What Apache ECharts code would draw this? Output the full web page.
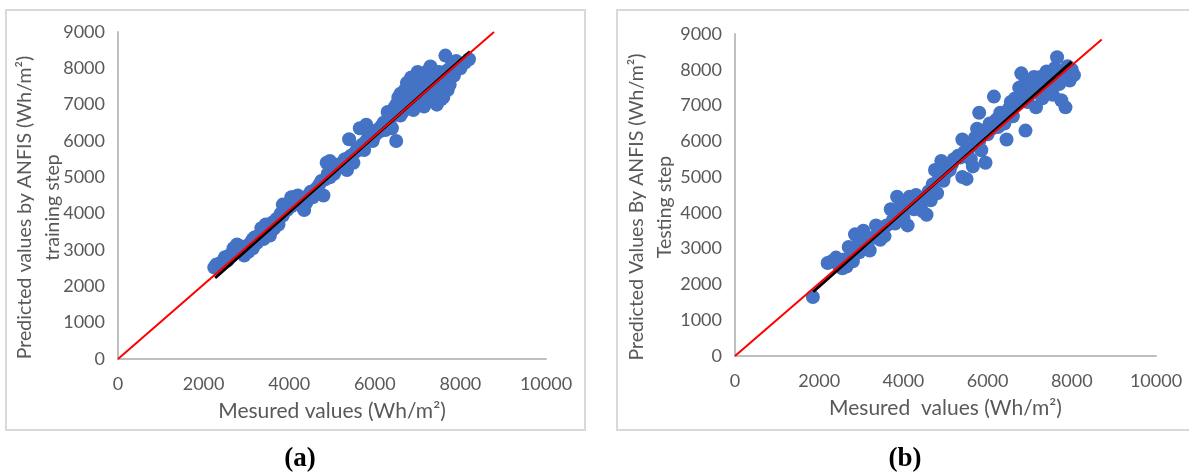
<!DOCTYPE html>
<html>
<head>
<meta charset="utf-8">
<script src="https://cdn.jsdelivr.net/npm/echarts@6/dist/echarts.min.js"></script>
<style>
html,body{margin:0;padding:0;background:#fff;}
#c{width:1189px;height:475px;}
</style>
</head>
<body>
<div id="c"></div>
<script>
// Axis ticks
const xTicks = [0, 2000, 4000, 6000, 8000, 10000];
const yTicks = [0, 1000, 2000, 3000, 4000, 5000, 6000, 7000, 8000, 9000];

// (a) training step: [measured, predicted]
const trainPoints = [
[2250,2520],[2300,2600],[2400,2650],[2500,2800],[2550,2700],[2650,2900],[2700,3050],[2780,3150],[2800,2950],[2900,3000],
[2950,2850],[3000,3100],[3050,2950],[3100,3200],[3150,3050],[3200,3350],[3250,3200],[3300,3400],[3400,3300],[3450,3700],
[3500,3500],[3550,3400],[3600,3750],[3650,3600],[3700,3850],[3750,3700],[3800,4000],[3850,4250],[3850,3950],[3900,4150],
[3950,4100],[4000,4300],[4050,4200],[4100,4450],[4150,4300],[4200,4500],[4250,4400],[4300,4200],[4350,4100],[4400,4300],
[4450,4500],[4500,4600],[4550,4450],[4600,4650],[4650,4700],[4700,4800],[4750,4900],[4800,4500],[4850,4950],[4875,5400],
[4900,5100],[4950,5450],[4950,5000],[5000,5200],[5050,5100],[5100,5250],[5200,5300],[5250,5350],[5300,5500],[5350,5200],
[5400,6050],[5400,5550],[5450,5600],[5500,5400],[5550,5700],[5600,5800],[5650,6350],[5700,5900],[5750,5750],[5800,6450],
[5800,6000],[5850,6100],[5900,6200],[5950,6000],[6000,6150],[6050,6300],[6100,6250],[6150,6400],[6200,6500],[6250,6300],
[6300,6800],[6350,6550],[6400,6700],[6450,6900],[6500,6000],[6500,7000],[6550,7200],[6600,6700],[6600,7300],[6650,7100],
[6700,7400],[6700,6900],[6750,7300],[6800,7600],[6800,7000],[6850,7200],[6900,7500],[6900,6850],[6950,7700],[7000,7300],
[7000,7900],[7050,7100],[7100,7600],[7100,7000],[7150,7800],[7200,7400],[7250,7150],[7300,8050],[7300,7600],[7350,7300],
[7400,7800],[7450,7000],[7500,7900],[7500,7450],[7550,7150],[7600,7700],[7650,8350],[7700,7950],[7700,7400],[7750,7550],
[7800,8100],[7850,7800],[7900,8200],[8000,8000],[8100,8150],[8200,8250],[7600,7200],[7150,6950],[6950,7050],
[2600,2850],[2850,3100],[3350,3600],[3150,3300],[3600,3550],[4050,4450],[4400,4450],[5150,5350],[6650,6800],[6750,7600],
[6850,7750],[7050,7700],[7200,7900],[7350,7950],[7450,7600],[6950,7350],[6550,6850],[6400,6350]
];
const trainTrend = [[2270,2230],[8224,8458]];
const trainIdeal = [[0,0],[8785,9000]];

// (b) testing step: [measured, predicted]
const testPoints = [
[1850,1650],[2200,2600],[2300,2650],[2400,2750],[2450,2550],[2550,2450],[2600,2700],[2650,2500],[2700,3050],[2750,2800],
[2800,2650],[2850,3400],[2900,3100],[2950,2900],[3050,3500],[3100,3250],[3150,3050],[3200,2950],[3250,3300],[3350,3650],
[3400,3450],[3450,3250],[3500,3550],[3550,3350],[3600,3650],[3700,4100],[3750,3800],[3800,3700],[3850,4450],[3900,4000],
[3950,4250],[4000,3850],[4050,4150],[4100,3650],[4150,4450],[4200,4300],[4250,4100],[4300,4500],[4400,4250],[4450,4050],
[4500,4400],[4550,3950],[4600,4600],[4650,4350],[4700,4800],[4750,5200],[4800,4550],[4850,5000],[4900,5450],[4950,4900],
[5000,5100],[5050,5300],[5100,5200],[5150,5350],[5200,5500],[5300,5600],[5350,5550],[5400,5000],[5400,6050],[5450,5700],
[5500,4950],[5550,5800],[5600,5500],[5650,5300],[5700,6100],[5750,6350],[5800,6800],[5800,6000],[5850,5750],[5900,6300],
[5950,5400],[6000,6200],[6050,6500],[6100,6350],[6150,7250],[6200,6600],[6250,6400],[6300,6800],[6350,6700],[6400,6500],
[6450,6050],[6500,6900],[6550,7100],[6600,6700],[6650,7200],[6700,7050],[6750,7500],[6800,7900],[6850,7300],[6900,6300],
[6900,7700],[6950,7100],[7000,7600],[7050,7350],[7100,7800],[7150,6950],[7200,7500],[7250,7800],[7300,7200],[7350,7650],
[7400,7950],[7450,7400],[7500,7700],[7550,7300],[7600,8050],[7650,8350],[7700,7600],[7750,7150],[7800,7900],[7850,6950],
[7900,8100],[7950,7700],[8000,8000],[8050,7850]
];
const testTrend = [[1860,1796],[7997,8220]];
const testIdeal = [[0,0],[8710,8845]];

const xNames = ['Mesured values (Wh/m\u00B2)', 'Mesured  values (Wh/m\u00B2)'];
const yNames = ['Predicted values by ANFIS (Wh/m\u00B2)\ntraining step', 'Predicted Values By ANFIS (Wh/m\u00B2)\nTesting step'];
const panelLabels = ['(a)', '(b)'];

const txt = '#595959';
const fontFam = 'Lato, "Open Sans", sans-serif';
const axisLineColor = '#BFBFBF';

function xAxisCfg(i){
  return {
    type:'value', gridIndex:i, min:xTicks[0], max:xTicks[xTicks.length-1], interval:2000,
    name:xNames[i], nameLocation:'middle', nameGap:42, nameMoveOverlap:false,
    nameTextStyle:{color:txt, fontSize:21, fontFamily:fontFam},
    axisLine:{show:true, lineStyle:{color:axisLineColor, width:2}},
    axisTick:{show:false}, splitLine:{show:false},
    axisLabel:{color:txt, fontSize:18, fontFamily:fontFam, margin:16, formatter:v => String(v)}
  };
}
function yAxisCfg(i){
  return {
    type:'value', gridIndex:i, min:yTicks[0], max:yTicks[yTicks.length-1], interval:1000,
    name:yNames[i], nameLocation:'middle', nameGap: i===0 ? 51 : 56, nameRotate:90, nameMoveOverlap:false,
    nameTextStyle:{color:txt, fontSize:19.5, fontFamily:fontFam, lineHeight:28, padding:[0,24,0,0]},
    axisLine:{show:true, lineStyle:{color:axisLineColor, width:2}},
    axisTick:{show:false}, splitLine:{show:false},
    axisLabel:{color:txt, fontSize:18, fontFamily:fontFam, margin:13, formatter:v => String(v)}
  };
}
function seriesFor(i, pts, trend, ideal){
  return [
    {type:'scatter', xAxisIndex:i, yAxisIndex:i, data:pts, symbolSize:14,
     itemStyle:{color:'#4472C4', opacity:1}, z:2, silent:true},
    {type:'line', xAxisIndex:i, yAxisIndex:i, data:trend, symbol:'none',
     lineStyle:{color:'#000000', width:3}, z:3, silent:true},
    {type:'line', xAxisIndex:i, yAxisIndex:i, data:ideal, symbol:'none',
     lineStyle:{color:'#FF0000', width:2}, z:4, silent:true}
  ];
}

const chart = echarts.init(document.getElementById('c'), null, {renderer:'canvas'});
chart.setOption({
  animation:false,
  backgroundColor:'#ffffff',
  grid:[
    {left:118, top:32, width:428, height:327},
    {left:735, top:34, width:421, height:322}
  ],
  xAxis:[xAxisCfg(0), xAxisCfg(1)],
  yAxis:[yAxisCfg(0), yAxisCfg(1)],
  series:[].concat(seriesFor(0, trainPoints, trainTrend, trainIdeal), seriesFor(1, testPoints, testTrend, testIdeal)),
  graphic:[
    {type:'rect', shape:{x:6, y:10, width:579, height:420}, style:{fill:'none', stroke:'#D9D9D9', lineWidth:2}, z:-1},
    {type:'rect', shape:{x:617, y:10, width:580, height:420}, style:{fill:'none', stroke:'#D9D9D9', lineWidth:2}, z:-1},
    {type:'text', x:300, y:459, style:{text:panelLabels[0], fill:'#000', font:'bold 27px "Liberation Serif", "Times New Roman", serif', textAlign:'center', textVerticalAlign:'middle'}},
    {type:'text', x:905, y:459, style:{text:panelLabels[1], fill:'#000', font:'bold 27px "Liberation Serif", "Times New Roman", serif', textAlign:'center', textVerticalAlign:'middle'}}
  ]
});
</script>
</body>
</html>
